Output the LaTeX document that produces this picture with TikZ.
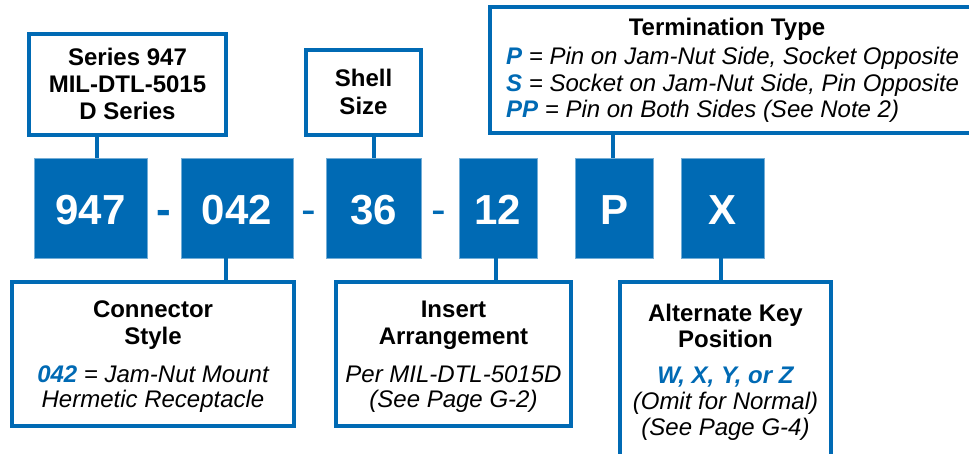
\documentclass[tikz,border=0pt]{standalone}
\usepackage{fontspec}
\setmainfont{Liberation Sans}
\definecolor{kblue}{RGB}{0,106,180}
\begin{document}
\begin{tikzpicture}[x=1pt,y=-1pt,
  wbox/.style={draw=kblue, line width=3.5pt, fill=white, rectangle, inner sep=0pt, outer sep=0pt},
  bbox/.style={fill=kblue, draw=kblue!55!white, line width=0.6pt, rectangle, inner sep=0pt, outer sep=0pt, minimum height=100pt},
  big/.style={text=white, font=\fontsize{42}{42}\selectfont\bfseries, anchor=base, inner sep=0pt},
  ttl/.style={anchor=base, inner sep=0pt, font=\fontsize{24}{27}\selectfont\bfseries},
  bdy/.style={anchor=base, inner sep=0pt, font=\fontsize{24}{27}\selectfont\itshape},
  hl/.style={anchor=base, inner sep=0pt, text=kblue, font=\fontsize{24}{27}\selectfont\bfseries\itshape},
  conn/.style={draw=kblue, line width=3.5pt},
  dsh/.style={anchor=base, inner sep=0pt, text=kblue}]
\clip (0,0) rectangle (969,454);
\fill[white] (0,0) rectangle (969,454);

% coordinates for connector x positions
\coordinate (x1) at (97,0);
\coordinate (x2) at (226,0);
\coordinate (x3) at (374,0);
\coordinate (x4) at (496,0);
\coordinate (x5) at (613,0);
\coordinate (x6) at (721,0);

% blue code boxes
\node[bbox, minimum width=113pt] (b947) at (90.5,208) {};
\node[bbox, minimum width=112pt] (b042) at (237,208) {};
\node[bbox, minimum width=95pt] (b36) at (373.5,208) {};
\node[bbox, minimum width=78pt] (b12) at (498,208) {};
\node[bbox, minimum width=78pt] (bP) at (614,208) {};
\node[bbox, minimum width=83pt] (bX) at (722.5,208) {};
\node[big] (t947) at (90.5,225) {947};
\node[big] (t042) at (237,225) {042};
\node[big] (t36) at (373.5,225) {36};
\node[big] (t12) at (498,225) {12};
\node[big] (tP) at (614,225) {P};
\node[big] (tX) at (722.5,225) {X};

% dashes
\node[dsh, font=\fontsize{44}{44}\selectfont\bfseries] (d1) at (164,225) {-};
\node[dsh, font=\fontsize{44}{44}\selectfont] (d2) at (309,225) {-};
\node[dsh, font=\fontsize{44}{44}\selectfont] (d3) at (439,225) {-};

% top boxes
\node[wbox, minimum width=197pt, minimum height=101pt] (series) at (127.5,84.5) {};
\node[wbox, minimum width=115pt, minimum height=85pt] (shell) at (363.5,92.5) {};
\node[wbox, minimum width=500pt, minimum height=126pt] (term) at (740,70) {};

% bottom boxes
\node[wbox, minimum width=282pt, minimum height=144pt] (cstyle) at (153,354) {};
\node[wbox, minimum width=235pt, minimum height=144pt] (insert) at (453.5,354) {};
\node[wbox, minimum width=211pt, minimum height=188pt] (altkey) at (725.5,376) {};

% connectors
\draw[conn] (series.south -| x1) -- (b947.north -| x1);
\draw[conn] (shell.south -| x3) -- (b36.north -| x3);
\draw[conn] (term.south -| x5) -- (bP.north -| x5);
\draw[conn] (b042.south -| x2) -- (cstyle.north -| x2);
\draw[conn] (b12.south -| x4) -- (insert.north -| x4);
\draw[conn] (bX.south -| x6) -- (altkey.north -| x6);

% series text
\node[ttl] (s1) at (127.5,66) {Series 947};
\node[ttl] (s2) at (127.5,93) {MIL-DTL-5015};
\node[ttl] (s3) at (127.5,120) {D Series};

% shell text
\node[ttl] (sh1) at (363.5,87) {Shell};
\node[ttl] (sh2) at (363.5,115) {Size};

% termination text
\node[ttl] (tt) at (727,36) {Termination Type};
\node[bdy, anchor=base west] (tt1) at (506,65) {{\color{kblue}\bfseries P} = Pin on Jam-Nut Side, Socket Opposite};
\node[bdy, anchor=base west] (tt2) at (506,92) {{\color{kblue}\bfseries S} = Socket on Jam-Nut Side, Pin Opposite};
\node[bdy, anchor=base west] (tt3) at (506,118) {{\color{kblue}\bfseries PP} = Pin on Both Sides (See Note 2)};

% connector style text
\node[ttl] (c1) at (153,318) {Connector};
\node[ttl] (c2) at (153,344) {Style};
\node[bdy] (c3) at (153,382) {{\color{kblue}\bfseries 042} = Jam-Nut Mount};
\node[bdy] (c4) at (153,407) {Hermetic Receptacle};

% insert text
\node[ttl] (i1) at (453.5,318) {Insert};
\node[ttl] (i2) at (453.5,344) {Arrangement};
\node[bdy] (i3) at (453.5,382) {Per MIL-DTL-5015D};
\node[bdy] (i4) at (453.5,407) {(See Page G-2)};

% alternate key text
\node[ttl] (a1) at (725.5,321) {Alternate Key};
\node[ttl] (a2) at (725.5,347) {Position};
\node[hl] (a3) at (725.5,383) {W, X, Y, or Z};
\node[bdy] (a4) at (725.5,409) {(Omit for Normal)};
\node[bdy] (a5) at (725.5,435) {(See Page G-4)};
\end{tikzpicture}
\end{document}
